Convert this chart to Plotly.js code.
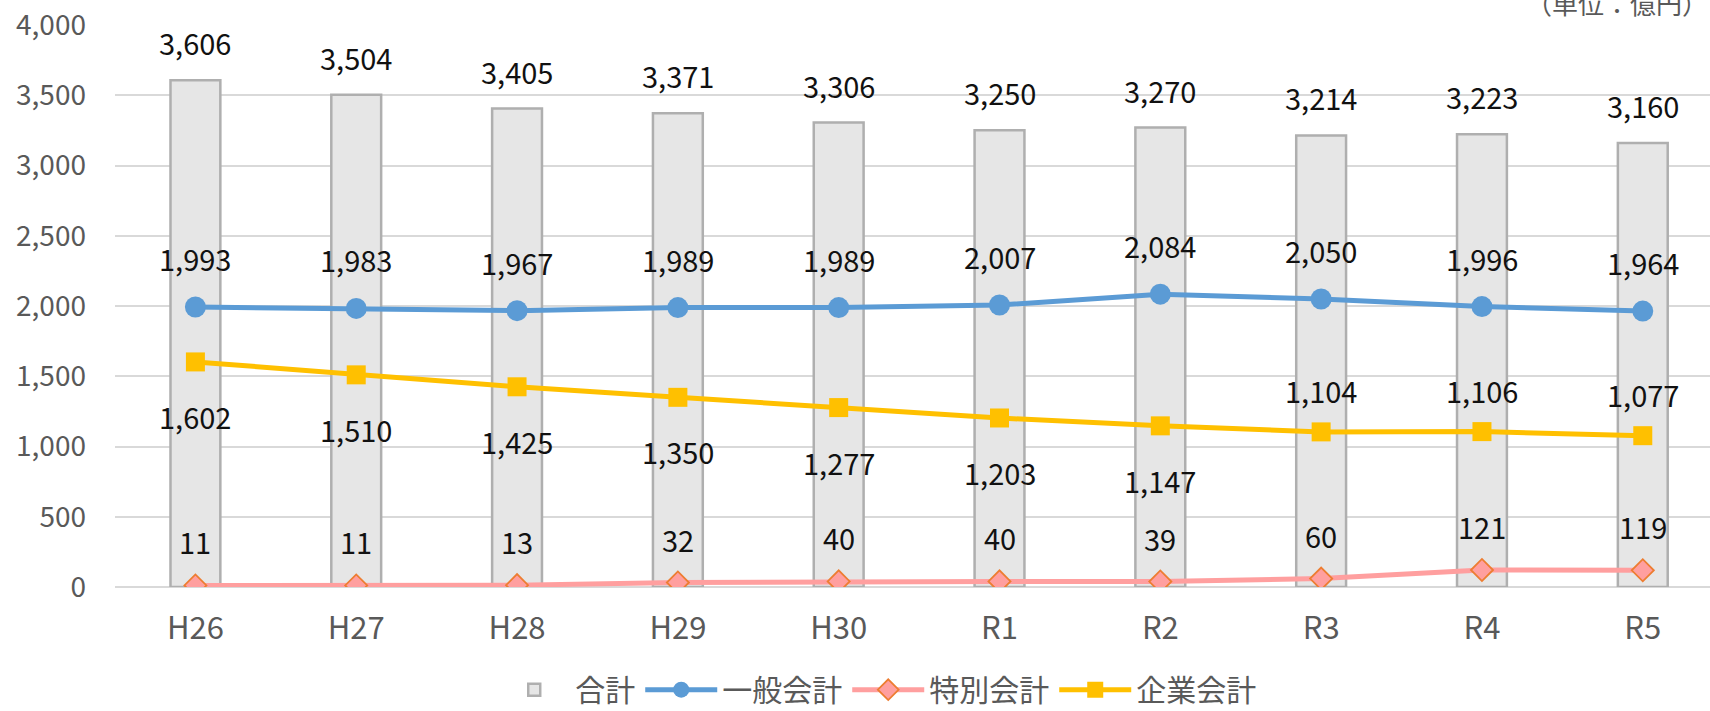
<!DOCTYPE html>
<html>
<head>
<meta charset="utf-8">
<script src="https://cdn.plot.ly/plotly-3.0.1.min.js"></script>
<style>html,body{margin:0;padding:0;background:#fff;}#chart{width:1710px;height:711px;}</style>
</head>
<body>
<div id="chart"></div>
<script>
const categories = ["H26","H27","H28","H29","H30","R1","R2","R3","R4","R5"];
const totalValues = [3606,3504,3405,3371,3306,3250,3270,3214,3223,3160];
const generalValues = [1993,1983,1967,1989,1989,2007,2084,2050,1996,1964];
const specialValues = [11,11,13,32,40,40,39,60,121,119];
const enterpriseValues = [1602,1510,1425,1350,1277,1203,1147,1104,1106,1077];
const enterpriseLabelSide = ["below","below","below","below","below","below","below","above","above","above"];
const yTickValues = [0,500,1000,1500,2000,2500,3000,3500,4000];

const FONT = '"Noto Sans CJK JP", "Noto Sans", sans-serif';
const fmt = v => v.toLocaleString('en-US');
const idx = categories.map((_, i) => i);

const traces = [
  {type:'bar', name:'合計', x: idx, y: totalValues, width:0.31,
   marker:{color:'#e6e6e6', line:{color:'#afafaf', width:2.5}}, hoverinfo:'skip'},
  {type:'scatter', mode:'lines+markers', name:'一般会計', x: idx, y: generalValues,
   line:{color:'#5b9bd5', width:5}, marker:{symbol:'circle', size:21, color:'#5b9bd5'}},
  {type:'scatter', mode:'lines+markers', name:'特別会計', x: idx, y: specialValues,
   line:{color:'#ff9f9f', width:5}, marker:{symbol:'diamond', size:17, color:'#ff9f9f', line:{color:'#ed7d31', width:1.8}}},
  {type:'scatter', mode:'lines+markers', name:'企業会計', x: idx, y: enterpriseValues,
   line:{color:'#ffc000', width:5}, marker:{symbol:'square', size:19, color:'#ffc000'}}
];

const annotations = [];
const lab = (i, v, shift) => ({x:i, y:v, xref:'x', yref:'y', text:fmt(v), showarrow:false,
  yanchor:'middle', xanchor:'center', yshift:shift, font:{family:FONT, size:29, color:'#111'}});
idx.forEach(i => {
  annotations.push(lab(i, totalValues[i], 38));
  annotations.push(lab(i, generalValues[i], 49));
  annotations.push(lab(i, specialValues[i], 44));
  annotations.push(lab(i, enterpriseValues[i], enterpriseLabelSide[i] === 'above' ? 42 : -54));
});
annotations.push({xref:'paper', yref:'paper', x:1, y:1, xanchor:'right', yanchor:'bottom', yshift:2,
  text:'（単位：億円）', showarrow:false, font:{family:FONT, size:26, color:'#595959'}});

const layout = {
  width:1710, height:711,
  margin:{l:115, r:0, t:25, b:123.5},
  paper_bgcolor:'#fff', plot_bgcolor:'#fff',
  font:{family:FONT, size:27, color:'#595959'},
  showlegend:true,
  legend:{orientation:'h', xref:'container', yref:'container', x:0.513, xanchor:'center', y:0.03, yanchor:'middle',
    font:{family:FONT, size:30, color:'#595959'}, itemwidth:72, tracegroupgap:0},
  xaxis:{range:[-0.5, 9.418], tickmode:'array', tickvals: idx, ticktext: categories,
    showgrid:false, zeroline:false, showline:false, ticks:'', ticklabelstandoff:20,
    tickfont:{family:FONT, size:31, color:'#595959'}, fixedrange:true, automargin:false},
  yaxis:{range:[0,4000], tickmode:'array', tickvals:yTickValues, ticktext:yTickValues.map(fmt),
    showgrid:true, gridcolor:'#d9d9d9', gridwidth:2, zeroline:true, zerolinecolor:'#d9d9d9', zerolinewidth:2,
    showline:false, ticks:'', ticklabelstandoff:28,
    tickfont:{family:FONT, size:28, color:'#595959'}, fixedrange:true, automargin:false},
  annotations: annotations,
  bargap:0.69
};

Plotly.newPlot('chart', traces, layout, {displayModeBar:false, staticPlot:true});
</script>
</body>
</html>
